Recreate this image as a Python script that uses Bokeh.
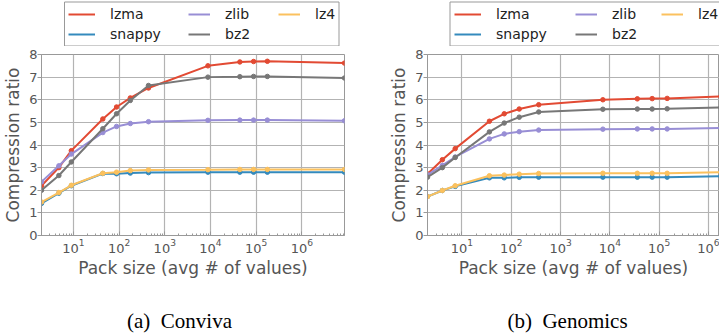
from bokeh.plotting import figure
from bokeh.models import Legend, LegendItem, Label, FixedTicker, Range1d, BoxAnnotation
from bokeh.layouts import row, column
from bokeh.embed import file_html
from bokeh.resources import INLINE

# ---------------- data ----------------
series = ["lzma", "snappy", "zlib", "bz2", "lz4"]
series_colors = ["#E24A33", "#348ABD", "#988ED5", "#777777", "#FBC15E"]
y_ticks = [0, 1, 2, 3, 4, 5, 6, 7, 8]

conviva_x = [2, 4.8, 9, 44, 88, 176, 440, 8800, 44000, 88000, 176000, 8.6e6]
conviva_lzma = [2.2, 3.0, 3.75, 5.15, 5.68, 6.08, 6.52, 7.5, 7.67, 7.69, 7.7, 7.62]
conviva_snappy = [1.42, 1.87, 2.2, 2.74, 2.73, 2.76, 2.78, 2.8, 2.8, 2.8, 2.8, 2.8]
conviva_zlib = [2.37, 3.08, 3.6, 4.55, 4.82, 4.95, 5.03, 5.09, 5.1, 5.1, 5.1, 5.07]
conviva_bz2 = [2.0, 2.65, 3.25, 4.72, 5.38, 5.97, 6.63, 7.0, 7.02, 7.03, 7.03, 6.96]
conviva_lz4 = [1.48, 1.9, 2.22, 2.75, 2.8, 2.87, 2.9, 2.91, 2.92, 2.92, 2.92, 2.92]

genomics_x = [2, 4, 7.3, 36, 72, 145, 360, 7200, 36000, 72000, 145000, 1.8e6]
genomics_lzma = [2.72, 3.35, 3.84, 5.05, 5.38, 5.59, 5.78, 6.0, 6.04, 6.05, 6.06, 6.15]
genomics_snappy = [1.72, 1.99, 2.17, 2.55, 2.55, 2.57, 2.58, 2.58, 2.58, 2.58, 2.58, 2.62]
genomics_zlib = [2.68, 3.1, 3.47, 4.27, 4.49, 4.59, 4.66, 4.7, 4.71, 4.71, 4.71, 4.75]
genomics_bz2 = [2.58, 3.0, 3.45, 4.58, 4.97, 5.23, 5.46, 5.58, 5.59, 5.59, 5.6, 5.66]
genomics_lz4 = [1.72, 1.99, 2.2, 2.64, 2.67, 2.71, 2.74, 2.75, 2.75, 2.75, 2.75, 2.8]

x_label = "Pack size (avg # of values)"
y_label = "Compression ratio"
captions = ["(a)\u00a0\u00a0Conviva", "(b)\u00a0\u00a0Genomics"]

FRAME_GRAY = "#999999"
GRID_GRAY = "#b3b3b3"
TEXT_GRAY = "#555555"


def blank_fig(width, height, bl, br, x_range=None, y_range=None, log=False):
    f = figure(width=width, height=height,
               x_range=x_range if x_range is not None else Range1d(0, 1),
               y_range=y_range if y_range is not None else Range1d(0, 1),
               x_axis_type="log" if log else "linear",
               x_axis_location=None, y_axis_location=None, output_backend="svg",
               toolbar_location=None, min_border_left=bl, min_border_right=br,
               min_border_top=0, min_border_bottom=0)
    f.outline_line_color = None
    f.grid.visible = False
    f.background_fill_color = "white"
    f.border_fill_color = "white"
    return f


def build(xs, ys, x_end, caption, fig_width, border_left, border_right,
          legend_x, box_lr, cap_x):
    # ---- legend strip (frame aligned with the chart frame) ----
    lf = blank_fig(fig_width, 46, border_left, border_right,
                   x_range=Range1d(xs[0], x_end), y_range=Range1d(20, 30), log=True)
    frame_box = BoxAnnotation(left=box_lr[0], right=box_lr[1], bottom=0.5, top=44.5,
                              left_units="screen", right_units="screen",
                              bottom_units="screen", top_units="screen",
                              fill_color="white", fill_alpha=1.0,
                              line_color=FRAME_GRAY, line_width=1, line_alpha=1.0)
    lf.add_layout(frame_box)
    items = {}
    for name, color, yv in zip(series, series_colors, ys):
        # series lie below the strip's y view, so only the legend glyphs show
        r = lf.line(xs, yv, line_color=color, line_width=2)
        items[name] = LegendItem(label=name, renderers=[r])
    common = dict(padding=3, spacing=4, glyph_height=16, label_height=16,
                  label_standoff=15, label_text_font="DejaVu Sans", label_text_font_size="14px",
                  label_text_color="#222222", margin=0, orientation="vertical",
                  border_line_alpha=0, background_fill_alpha=0)
    legA = Legend(items=[items["lzma"], items["snappy"]], location=(legend_x[0], 1),
                  glyph_width=27, **common)
    legB = Legend(items=[items["zlib"], items["bz2"]], location=(legend_x[1], 1),
                  glyph_width=22, **common)
    legC = Legend(items=[items["lz4"]], location=(legend_x[2], 21),
                  glyph_width=22, **common)
    lf.add_layout(legA)
    lf.add_layout(legB)
    lf.add_layout(legC)

    # ---- chart ----
    p = figure(width=fig_width, height=254, x_axis_type="log",
               x_range=Range1d(xs[0], x_end), y_range=Range1d(y_ticks[0], y_ticks[-1]),
               output_backend="svg", toolbar_location=None,
               min_border_left=border_left, min_border_right=border_right,
               min_border_top=8, min_border_bottom=65)
    p.outline_line_color = FRAME_GRAY
    p.outline_line_width = 1
    p.background_fill_color = "white"
    p.border_fill_color = "white"

    xa = p.xaxis[0]
    xa.axis_label = x_label
    xa.axis_label_text_font = "DejaVu Sans"
    xa.axis_label_text_font_size = "17px"
    xa.axis_label_text_font_style = "normal"
    xa.axis_label_text_color = TEXT_GRAY
    xa.axis_label_standoff = 2
    xa.major_label_text_font = "DejaVu Sans"
    xa.major_label_text_font_size = "13px"
    xa.major_label_text_color = TEXT_GRAY
    xa.major_label_standoff = 3
    xa.major_tick_out = 0
    xa.major_tick_in = 4
    xa.minor_tick_out = 0
    xa.minor_tick_in = 2
    xa.axis_line_color = FRAME_GRAY
    xa.major_tick_line_color = FRAME_GRAY
    xa.minor_tick_line_color = FRAME_GRAY

    ya = p.yaxis[0]
    ya.ticker = FixedTicker(ticks=y_ticks)
    ya.axis_label = y_label
    ya.axis_label_text_font = "DejaVu Sans"
    ya.axis_label_text_font_size = "17px"
    ya.axis_label_text_font_style = "normal"
    ya.axis_label_text_color = TEXT_GRAY
    ya.axis_label_standoff = 3
    ya.major_label_text_font = "DejaVu Sans"
    ya.major_label_text_font_size = "13px"
    ya.major_label_text_color = TEXT_GRAY
    ya.major_label_standoff = 0
    ya.major_tick_out = 4
    ya.major_tick_in = 0
    ya.minor_tick_out = 0
    ya.axis_line_color = FRAME_GRAY
    ya.major_tick_line_color = FRAME_GRAY

    p.xgrid.grid_line_color = GRID_GRAY
    p.xgrid.grid_line_width = 1.2
    p.ygrid.grid_line_color = GRID_GRAY
    p.ygrid.grid_line_width = 1.2
    p.ygrid.ticker = FixedTicker(ticks=y_ticks)

    for name, color, yv in zip(series, series_colors, ys):
        p.line(xs, yv, line_color=color, line_width=2)
        p.scatter(xs, yv, size=4.5, fill_color=color, line_color=color)

    # ---- caption strip ----
    cf = blank_fig(fig_width, 34, border_left, border_right)
    cap = Label(x=cap_x, y=14, x_units="screen", y_units="screen", text=caption,
                text_align="center", text_baseline="middle", text_font="Liberation Serif",
                text_font_size="21px", text_color="black")
    cf.add_layout(cap)

    return column(lf, p, cf, spacing=0)


left = build(conviva_x, [conviva_lzma, conviva_snappy, conviva_zlib, conviva_bz2, conviva_lz4],
             conviva_x[-1], captions[0], 386, 41, 42, (24, 144, 234), (23, 297.5), 138)
right = build(genomics_x, [genomics_lzma, genomics_snappy, genomics_zlib, genomics_bz2, genomics_lz4],
              1.67e6, captions[1], 333, 33, 0, (24, 145, 231), (22.5, 296), 140)

layout = row(left, right, spacing=0)
open("out.html", "w").write(file_html(layout, INLINE))
